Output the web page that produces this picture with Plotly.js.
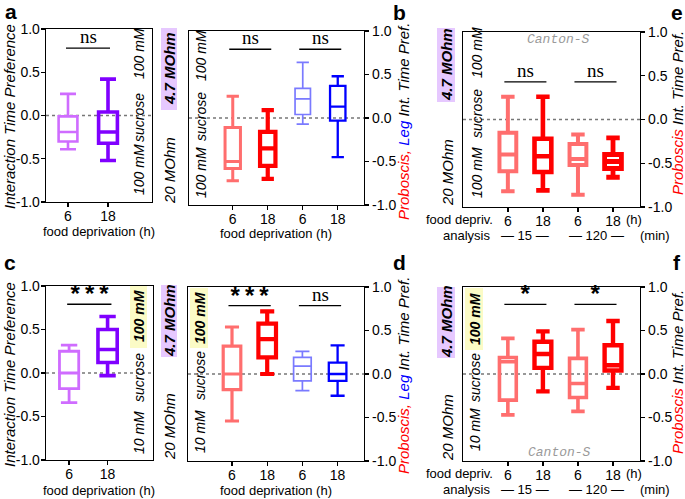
<!DOCTYPE html>
<html><head><meta charset="utf-8">
<script src="https://cdn.plot.ly/plotly-3.0.1.min.js"></script>
<style>html,body{margin:0;padding:0;background:#fff;}#chart{width:685px;height:499px;}</style>
</head><body><div id="chart"></div>
<script>
// ---------- data ----------
const yTickVals = [-1, -0.5, 0, 0.5, 1];
const yTickText = ['-1.0', '-0.5', '0.0', '0.5', '1.0'];
const hourLabels2 = ['6', '18'];
const hourLabels4 = ['6', '18', '6', '18'];

// panel a : 100 mM vs 100 mM, interaction time preference
const aUpper = [0.25, 0.42];
const aQ3    = [-0.01, 0.04];
const aMed   = [-0.19, -0.19];
const aQ1    = [-0.30, -0.32];
const aLower = [-0.39, -0.52];
const aSig   = ['ns'];

// panel b : proboscis (6,18), leg (6,18)
const bUpper = [0.25, 0.09, 0.64, 0.48];
const bQ3    = [-0.11, -0.16, 0.34, 0.37];
const bMed   = [-0.50, -0.35, 0.22, 0.13];
const bQ1    = [-0.58, -0.55, 0.04, -0.03];
const bLower = [-0.72, -0.70, -0.07, -0.45];
const bSig   = ['ns', 'ns'];

// panel e : proboscis, analysis 15 min (6,18), 120 min (6,18)
const eUpper = [0.26, 0.26, -0.17, -0.21];
const eQ3    = [-0.15, -0.22, -0.28, -0.40];
const eMed   = [-0.40, -0.42, -0.45, -0.48];
const eQ1    = [-0.59, -0.60, -0.52, -0.56];
const eLower = [-0.82, -0.81, -0.86, -0.66];
const eSig   = ['ns', 'ns'];

// panel c : 10 mM vs 100 mM
const cUpper = [0.32, 0.65];
const cQ3    = [0.25, 0.50];
const cMed   = [0.00, 0.27];
const cQ1    = [-0.18, 0.12];
const cLower = [-0.34, -0.03];
const cSig   = ['***'];

// panel d : proboscis (6,18), leg (6,18)
const dUpper = [0.54, 0.72, 0.26, 0.33];
const dQ3    = [0.32, 0.58, 0.19, 0.13];
const dMed   = [0.00, 0.40, 0.09, 0.00];
const dQ1    = [-0.18, 0.19, -0.08, -0.08];
const dLower = [-0.54, 0.00, -0.19, -0.25];
const dSig   = ['***', 'ns'];

// panel f : proboscis, analysis 15 min (6,18), 120 min (6,18)
const fUpper = [0.41, 0.49, 0.51, 0.61];
const fQ3    = [0.19, 0.37, 0.18, 0.33];
const fMed   = [0.14, 0.23, -0.11, 0.10];
const fQ1    = [-0.30, 0.07, -0.27, 0.04];
const fLower = [-0.47, -0.20, -0.43, -0.16];
const fSig   = ['*', '*'];

// ---------- styles ----------
const LPUR = '#cf6cff', DPUR = '#8000ff', SAL = '#ff6e6e', RED = '#ff0000', LBLU = '#7a7aff', BLU = '#0000ff';
const F = 'Liberation Sans, Arial, sans-serif';
const MONO = 'Liberation Mono, DejaVu Sans Mono, monospace';
const SERIF = 'Liberation Serif, DejaVu Serif, serif';
const W = 685, H = 499;
const X = px => px / W;
const Y = py => 1 - py / H;

const traces = [];
function addBoxes(xa, ya, upper, q3, med, q1, lower, colors, widths, boxW, whisk) {
  for (let i = 0; i < med.length; i++) {
    traces.push({
      type: 'box', x: [i], q1: [q1[i]], median: [med[i]], q3: [q3[i]],
      lowerfence: [lower[i]], upperfence: [upper[i]],
      xaxis: xa, yaxis: ya, width: boxW, whiskerwidth: whisk,
      line: {color: colors[i], width: widths[i]}, fillcolor: 'rgba(255,255,255,0)',
      boxpoints: false, hoverinfo: 'skip', showlegend: false
    });
  }
}
addBoxes('x',  'y',  aUpper, aQ3, aMed, aQ1, aLower, [LPUR, DPUR], [2.6, 3.6], 0.47, 0.85);
addBoxes('x2', 'y2', bUpper, bQ3, bMed, bQ1, bLower, [SAL, RED, LBLU, BLU], [3.0, 4.2, 1.7, 2.3], 0.44, 0.8);
addBoxes('x3', 'y3', eUpper, eQ3, eMed, eQ1, eLower, [SAL, RED, SAL, RED], [4.0, 4.6, 4.0, 4.8], 0.48, 0.8);
addBoxes('x4', 'y4', cUpper, cQ3, cMed, cQ1, cLower, [LPUR, DPUR], [2.8, 3.6], 0.5, 0.85);
addBoxes('x5', 'y5', dUpper, dQ3, dMed, dQ1, dLower, [SAL, RED, LBLU, BLU], [3.2, 4.2, 1.7, 2.3], 0.5, 0.8);
addBoxes('x6', 'y6', fUpper, fQ3, fMed, fQ1, fLower, [SAL, RED, SAL, RED], [3.6, 4.4, 3.6, 4.4], 0.48, 0.8);

function xax(l, r, range, anchor, vals, text) {
  return {domain: [X(l), X(r)], range: range, anchor: anchor, tickmode: 'array', tickvals: vals, ticktext: text,
    ticks: 'outside', ticklen: 4, tickwidth: 1.3, tickcolor: '#000', showline: true, linewidth: 1.3, linecolor: '#000',
    ticklabelstandoff: -3,
    mirror: true, showgrid: false, zeroline: false, tickfont: {family: F, size: 14, color: '#000'}, fixedrange: true};
}
function yax(top, bottom, side, anchor) {
  return {domain: [Y(bottom), Y(top)], range: [-1, 1], side: side, anchor: anchor, tickmode: 'array',
    tickvals: yTickVals, ticktext: yTickText, ticks: 'outside', ticklen: 4, tickwidth: 1.3, tickcolor: '#000',
    ticklabelstandoff: side === 'left' ? -2 : 0,
    showline: true, linewidth: 1.3, linecolor: '#000', mirror: true, showgrid: false, zeroline: false,
    tickfont: {family: F, size: 14, color: '#000'}, fixedrange: true};
}
const x2 = [0, 1], x4 = [0, 1, 2, 3];
const layout = {
  width: W, height: H, margin: {l: 0, r: 0, t: 0, b: 0}, paper_bgcolor: '#fff', plot_bgcolor: '#fff',
  showlegend: false, boxmode: 'overlay',
  xaxis:  xax(46, 152, [-0.55, 2.1], 'y', x2, hourLabels2),
  yaxis:  yax(29, 202, 'left', 'x'),
  xaxis2: xax(189, 364, [-1.25, 3.75], 'y2', x4, hourLabels4),
  yaxis2: yax(31, 205, 'right', 'x2'),
  xaxis3: xax(463, 640, [-1.28, 3.77], 'y3', x4, hourLabels4),
  yaxis3: yax(32, 207, 'right', 'x3'),
  xaxis4: xax(46, 153, [-0.6, 2.18], 'y4', x2, hourLabels2),
  yaxis4: yax(286, 460, 'left', 'x4'),
  xaxis5: xax(188, 364, [-1.25, 3.75], 'y5', x4, hourLabels4),
  yaxis5: yax(287, 461, 'right', 'x5'),
  xaxis6: xax(463, 640, [-1.28, 3.77], 'y6', x4, hourLabels4),
  yaxis6: yax(287, 461, 'right', 'x6'),
  shapes: [], annotations: []
};
const S = layout.shapes, A = layout.annotations;

// dotted zero lines
['', '2', '3', '4', '5', '6'].forEach(k => {
  S.push({type: 'line', xref: 'x' + k + ' domain', yref: 'y' + k, x0: 0, x1: 1, y0: 0, y1: 0,
    line: {color: '#777', width: 1.3, dash: 'dot'}, layer: 'below'});
});

// significance bars
function sig(k, pairs, labels, yv, starSize) {
  pairs.forEach((p, i) => {
    S.push({type: 'line', xref: 'x' + k, yref: 'y' + k, x0: p[0], x1: p[1], y0: yv, y1: yv, line: {color: '#000', width: 1.3}});
    const isStar = labels[i].indexOf('*') >= 0;
    A.push({xref: 'x' + k, yref: 'y' + k, x: (p[0] + p[1]) / 2, y: yv, text: labels[i], showarrow: false,
      yanchor: 'bottom', yshift: isStar ? -8 : -1,
      font: isStar ? {family: MONO, size: starSize, color: '#000', weight: 'bold'}
                   : {family: SERIF, size: 19, color: '#000'}});
  });
}
sig('', [[-0.05, 1.05]], aSig, 0.78, 22);
sig('2', [[-0.1, 1.1], [1.9, 3.1]], bSig, 0.79, 22);
sig('3', [[-0.1, 1.1], [1.9, 3.1]], eSig, 0.43, 22);
sig('4', [[-0.05, 1.1]], cSig, 0.79, 24);
sig('5', [[-0.1, 1.1], [1.9, 3.1]], dSig, 0.785, 24);
sig('6', [[-0.1, 1.1], [1.9, 3.1]], fSig, 0.80, 24);

// generic paper annotation helper
function T(text, xp, yp, o) {
  o = o || {};
  A.push(Object.assign({xref: 'paper', yref: 'paper', x: X(xp), y: Y(yp), text: text, showarrow: false,
    xanchor: 'center', yanchor: 'middle',
    font: {family: o.family || F, size: o.size || 13, color: o.color || '#000', style: o.style || 'normal', weight: o.weight || 'normal'}},
    o.extra || {}));
}
// panel letters
T('a', 11, 11, {size: 21, weight: 'bold'});
T('b', 399, 12, {size: 21, weight: 'bold'});
T('e', 677, 12, {size: 21, weight: 'bold'});
T('c', 10, 262, {size: 21, weight: 'bold'});
T('d', 399, 262, {size: 21, weight: 'bold'});
T('f', 677, 262, {size: 21, weight: 'bold'});

// left y titles
T('Interaction Time Preference', 9, 117, {size: 15, style: 'italic', extra: {textangle: -90}});
T('Interaction Time Preference', 9, 375, {size: 15, style: 'italic', extra: {textangle: -90}});
// right y titles
const pl = '<span style="color:#ff0000">Proboscis,</span> <span style="color:#0000ff">Leg</span> Int. Time Pref.';
const pe = '<span style="color:#ff0000">Proboscis</span> Int. Time Pref.';
T(pl, 403, 122, {size: 15, style: 'italic', extra: {textangle: -90}});
T(pl, 403, 376, {size: 15, style: 'italic', extra: {textangle: -90}});
T(pe, 677, 113, {size: 15, style: 'italic', extra: {textangle: -90}});
T(pe, 677, 372, {size: 15, style: 'italic', extra: {textangle: -90}});

// x titles
T('food deprivation (h)', 99, 231);
T('food deprivation (h)', 276, 233);
T('food deprivation (h)', 99, 490);
T('food deprivation (h)', 276, 490);
function ef(yTop) {
  T('food depriv.', 495, yTop, {extra: {xanchor: 'right'}});
  T('(h)', 634, yTop);
  T('analysis', 492, yTop + 16, {extra: {xanchor: 'right'}});
  T('\u2014 15 \u2014', 525, yTop + 16);
  T('\u2014 120 \u2014', 596, yTop + 16);
  T('(min)', 638, yTop + 16, {extra: {xanchor: 'left'}});
}
ef(219);
ef(473);

// resistance boxes
function rbox(l, r, t, b, col) {
  S.push({type: 'rect', xref: 'paper', yref: 'paper', x0: X(l), x1: X(r), y0: Y(b), y1: Y(t), fillcolor: col, line: {width: 0}, layer: 'below'});
}
const PURP_BG = '#e6c8ff', YEL_BG = '#fbfbc6';
rbox(161, 177, 28, 110, PURP_BG);
rbox(161, 177, 285, 357, PURP_BG);
rbox(437, 455, 28, 102, PURP_BG);
rbox(437, 455, 287, 358, PURP_BG);
T('4.7 MOhm', 169, 69, {size: 15, style: 'italic', weight: 'bold', extra: {textangle: -90}});
T('4.7 MOhm', 169, 321, {size: 15, style: 'italic', weight: 'bold', extra: {textangle: -90}});
T('4.7 MOhm', 446, 65, {size: 15, style: 'italic', weight: 'bold', extra: {textangle: -90}});
T('4.7 MOhm', 446, 322, {size: 15, style: 'italic', weight: 'bold', extra: {textangle: -90}});
T('20 MOhm', 169, 171, {size: 15, style: 'italic', extra: {textangle: -90}});
T('20 MOhm', 169, 427, {size: 15, style: 'italic', extra: {textangle: -90}});
T('20 MOhm', 447, 172, {size: 15, style: 'italic', extra: {textangle: -90}});
T('20 MOhm', 447, 427, {size: 15, style: 'italic', extra: {textangle: -90}});

// sucrose labels
function suc(xp, yTop, yMid, yBot, top, bot, topBold) {
  T(top, xp, yTop, {size: 14, style: 'italic', weight: topBold ? 'bold' : 'normal', extra: {textangle: -90}});
  T('sucrose', xp, yMid, {size: 14, style: 'italic', extra: {textangle: -90}});
  T(bot, xp, yBot, {size: 14, style: 'italic', extra: {textangle: -90}});
}
suc(139, 54, 118, 170, '100 mM', '100 mM', false);
suc(201, 56, 117, 173, '100 mM', '100 mM', false);
suc(477, 53, 114, 173, '100 mM', '100 mM', false);
rbox(130, 147, 285, 348, YEL_BG);
rbox(190, 208, 288, 348, YEL_BG);
rbox(465, 483, 288, 350, YEL_BG);
suc(139, 316, 378, 433, '100 mM', '10 mM', true);
suc(200, 318, 375, 431, '100 mM', '10 mM', true);
suc(475, 319, 378, 430, '100 mM', '10 mM', true);

// Canton-S
T('Canton-S', 558, 40, {family: MONO, size: 13, style: 'italic', color: '#9a9a9a'});
T('Canton-S', 559, 452, {family: MONO, size: 13, style: 'italic', color: '#9a9a9a'});

Plotly.newPlot('chart', traces, layout, {staticPlot: true, displayModeBar: false});
</script></body></html>
